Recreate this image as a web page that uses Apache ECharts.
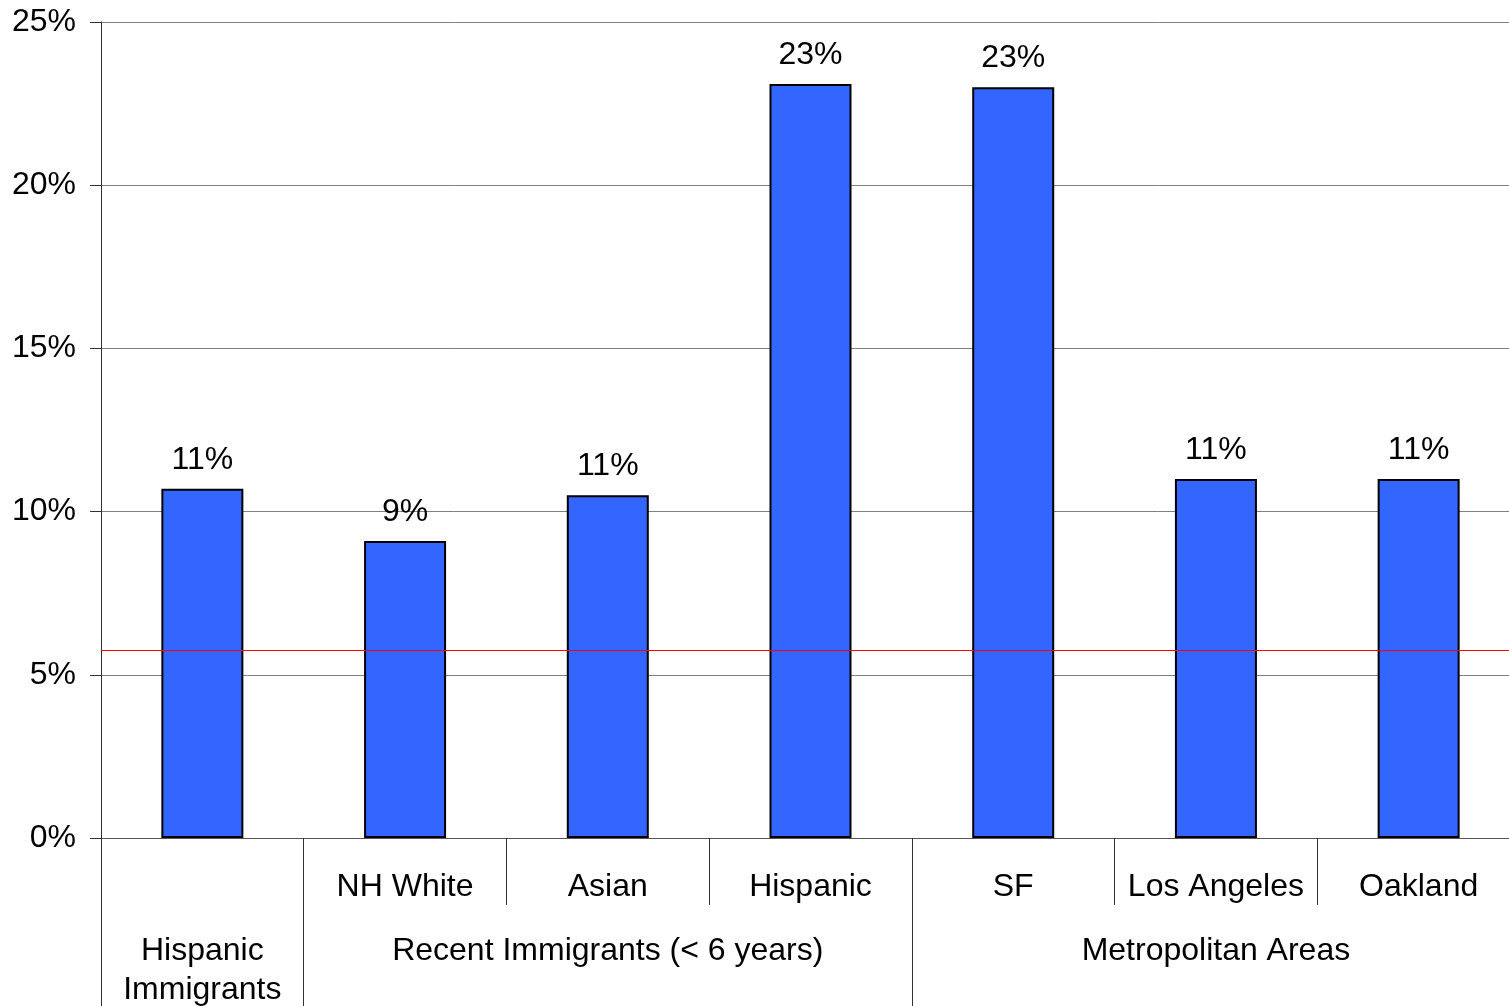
<!DOCTYPE html>
<html>
<head>
<meta charset="utf-8">
<script src="https://cdn.jsdelivr.net/npm/echarts@6/dist/echarts.min.js"></script>
<style>
html,body{margin:0;padding:0;background:#fff;overflow:hidden;}
#chart{width:1509px;height:1006px;}
</style>
</head>
<body>
<div id="chart"></div>
<script>
const categories = ['', 'NH White', 'Asian', 'Hispanic', 'SF', 'Los Angeles', 'Oakland'];
const values = [10.7, 9.1, 10.5, 23.1, 23.0, 11.0, 11.0];
const valueLabels = ['11%', '9%', '11%', '23%', '23%', '11%', '11%'];
const groupNames = ['Hispanic\nImmigrants', 'Recent Immigrants (< 6 years)', 'Metropolitan Areas'];
const groupSpans = [1, 3, 3];
const referenceValue = 5.76;
const yTicks = [0, 5, 10, 15, 20, 25];

// build second-level axis labels (label at middle category of each group)
const groupAxisData = new Array(categories.length).fill('');
const groupStarts = [];
let start = 0;
groupNames.forEach((g, k) => {
  groupStarts.push(start);
  const mid = start + Math.floor(groupSpans[k] / 2);
  groupAxisData[mid] = g;
  start += groupSpans[k];
});

const FONT = '"Liberation Sans", Arial, sans-serif';
const chart = echarts.init(document.getElementById('chart'));
chart.setOption({
  animation: false,
  grid: { left: 101, right: -11, top: 22, bottom: 168, containLabel: false, outerBoundsMode: 'none' },
  xAxis: [
    {
      type: 'category',
      data: categories,
      position: 'bottom',
      axisLine: { show: true, lineStyle: { color: '#555', width: 1 } },
      axisTick: { show: true, length: 67, alignWithLabel: false, lineStyle: { color: '#333', width: 1 },
        interval: (i) => i > 0 && i < categories.length },
      axisLabel: { interval: 0, color: '#000', fontSize: 32, fontFamily: FONT, margin: 33 },
      splitLine: { show: false }
    },
    {
      type: 'category',
      data: groupAxisData,
      position: 'bottom',
      gridIndex: 0,
      axisLine: { show: false },
      axisTick: { show: true, length: 168, alignWithLabel: false, lineStyle: { color: '#333', width: 1 },
        interval: (i) => groupStarts.indexOf(i) >= 0 },
      axisLabel: { interval: 0, color: '#000', fontSize: 32, fontFamily: FONT, margin: 94, lineHeight: 39 },
      splitLine: { show: false }
    }
  ],
  yAxis: {
    type: 'value',
    min: yTicks[0],
    max: yTicks[yTicks.length - 1],
    interval: 5,
    axisLine: { show: true, lineStyle: { color: '#333', width: 1 } },
    axisTick: { show: true, length: 11, inside: false, lineStyle: { color: '#333' } },
    axisLabel: { formatter: '{value}%', color: '#000', fontSize: 32, fontFamily: FONT, margin: 25 },
    splitLine: { show: true, lineStyle: { color: '#7f7f7f', width: 1 } }
  },
  series: [
    {
      type: 'bar',
      xAxisIndex: 0,
      data: values,
      barWidth: 82,
      itemStyle: { color: '#3366FF', borderColor: '#000', borderWidth: 2 },
      label: {
        show: true, position: 'top', distance: 13, color: '#000', fontSize: 32, fontFamily: FONT,
        formatter: (p) => valueLabels[p.dataIndex]
      },
      markLine: {
        silent: true,
        z: 10,
        symbol: ['none', 'none'],
        label: { show: false },
        lineStyle: { color: '#ff0000', width: 1.2, type: 'solid', opacity: 1 },
        emphasis: { disabled: true },
        data: [{ yAxis: referenceValue }]
      }
    }
  ]
});
</script>
</body>
</html>
